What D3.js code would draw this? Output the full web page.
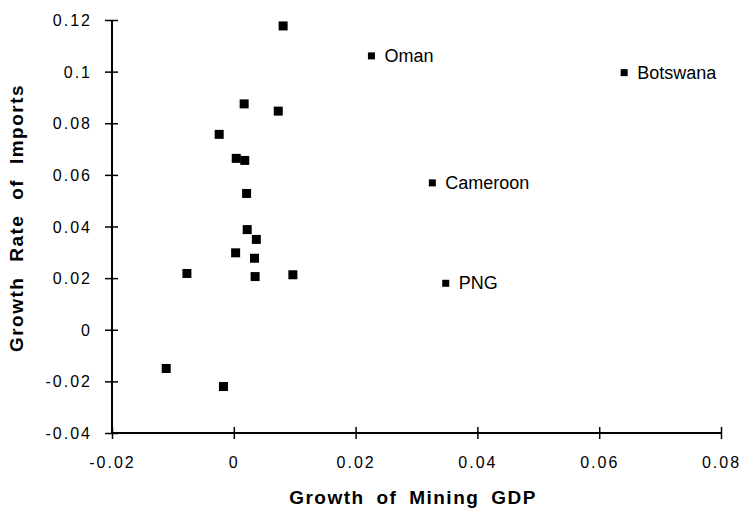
<!DOCTYPE html>
<html>
<head>
<meta charset="utf-8">
<script src="https://cdn.jsdelivr.net/npm/d3@7"></script>
<style>
  body { margin: 0; background: #fff; }
  text { font-family: "Liberation Sans", Arial, Helvetica, sans-serif; fill: #000; }
</style>
</head>
<body>
<div id="scatter"></div>
<script>
// data: growth of mining GDP vs growth rate of imports
var miningGrowth = [0.0081, 0.0226, 0.0017, 0.0073, -0.0024, 0.0004, 0.0018, 0.0021,
  0.0326, 0.0022, 0.0037, 0.0003, 0.0034, -0.0077, 0.0035, 0.0097, 0.0348, -0.0111, -0.0017, 0.0641];
var importGrowth = [0.1177, 0.1061, 0.0875, 0.0847, 0.0757, 0.0664, 0.0656, 0.0528,
  0.0569, 0.0388, 0.0350, 0.0298, 0.0277, 0.0218, 0.0206, 0.0213, 0.0180, -0.0150, -0.0220, 0.0996];
var countryLabels = ["", "Oman", "", "", "", "", "", "",
  "Cameroon", "", "", "", "", "", "", "", "PNG", "", "", "Botswana"];

var xTicks = [-0.02, 0, 0.02, 0.04, 0.06, 0.08];
var yTicks = [-0.04, -0.02, 0, 0.02, 0.04, 0.06, 0.08, 0.1, 0.12];

var points = miningGrowth.map(function(x, i) {
  return { x: x, y: importGrowth[i], label: countryLabels[i] };
});

var svgWidth = 742;
var svgHeight = 511;

var margin = { top: 20, right: 21, bottom: 78, left: 112 };
var width = svgWidth - margin.left - margin.right;
var height = svgHeight - margin.top - margin.bottom;

var svg = d3.select("#scatter")
  .append("svg")
  .attr("width", svgWidth)
  .attr("height", svgHeight);

var chartGroup = svg.append("g")
  .attr("transform", `translate(${margin.left}, ${margin.top})`);

var xScale = d3.scaleLinear().domain([-0.02, 0.08]).range([0, width]);
var yScale = d3.scaleLinear().domain([-0.04, 0.12]).range([height, 0]);

var fmt = function(d) { return String(+d.toFixed(2)); };

// x axis, ticks cross the line
var xAxisG = chartGroup.append("g")
  .attr("transform", `translate(0, ${height})`)
  .call(d3.axisBottom(xScale).tickValues(xTicks).tickFormat(fmt).tickSizeOuter(0));
xAxisG.select(".domain").attr("stroke-width", 2).attr("d", `M0,0H${width}`);
xAxisG.selectAll(".tick line").attr("y1", -6).attr("y2", 6).attr("stroke-width", 1.5);
xAxisG.selectAll(".tick text")
  .attr("y", 35)
  .attr("dy", 0)
  .style("font-size", "16px")
  .style("letter-spacing", "2px");

// y axis
var yAxisG = chartGroup.append("g")
  .call(d3.axisLeft(yScale).tickValues(yTicks).tickFormat(fmt).tickSizeOuter(0));
yAxisG.select(".domain").attr("stroke-width", 2).attr("d", `M0,0V${height}`);
yAxisG.selectAll(".tick line").attr("x1", -7).attr("x2", 6).attr("stroke-width", 1.5);
yAxisG.selectAll(".tick text")
  .attr("x", -20)
  .attr("dy", "0.35em")
  .style("font-size", "16px")
  .style("letter-spacing", "2px");

// markers
chartGroup.selectAll("rect.pt")
  .data(points)
  .enter()
  .append("rect")
  .attr("class", "pt")
  .attr("x", d => xScale(d.x) - (d.label ? 3.5 : 4.5))
  .attr("y", d => yScale(d.y) - (d.label ? 3.5 : 4.5))
  .attr("width", d => d.label ? 7 : 9)
  .attr("height", d => d.label ? 7 : 9)
  .attr("fill", "#000");

chartGroup.selectAll("text.lbl")
  .data(points.filter(d => d.label))
  .enter()
  .append("text")
  .attr("class", "lbl")
  .attr("x", d => xScale(d.x) + 13)
  .attr("y", d => yScale(d.y) + 6)
  .style("font-size", "18px")
  .text(d => d.label);

// axis titles
svg.append("text")
  .attr("x", 413)
  .attr("y", 504)
  .attr("text-anchor", "middle")
  .style("font-size", "19px")
  .style("font-weight", "bold")
  .style("letter-spacing", "1.5px")
  .style("word-spacing", "5px")
  .text("Growth of Mining GDP");

svg.append("text")
  .attr("transform", "translate(23, 218) rotate(-90)")
  .attr("text-anchor", "middle")
  .style("font-size", "19px")
  .style("font-weight", "bold")
  .style("letter-spacing", "1.5px")
  .style("word-spacing", "8px")
  .text("Growth Rate of Imports");
</script>
</body>
</html>
